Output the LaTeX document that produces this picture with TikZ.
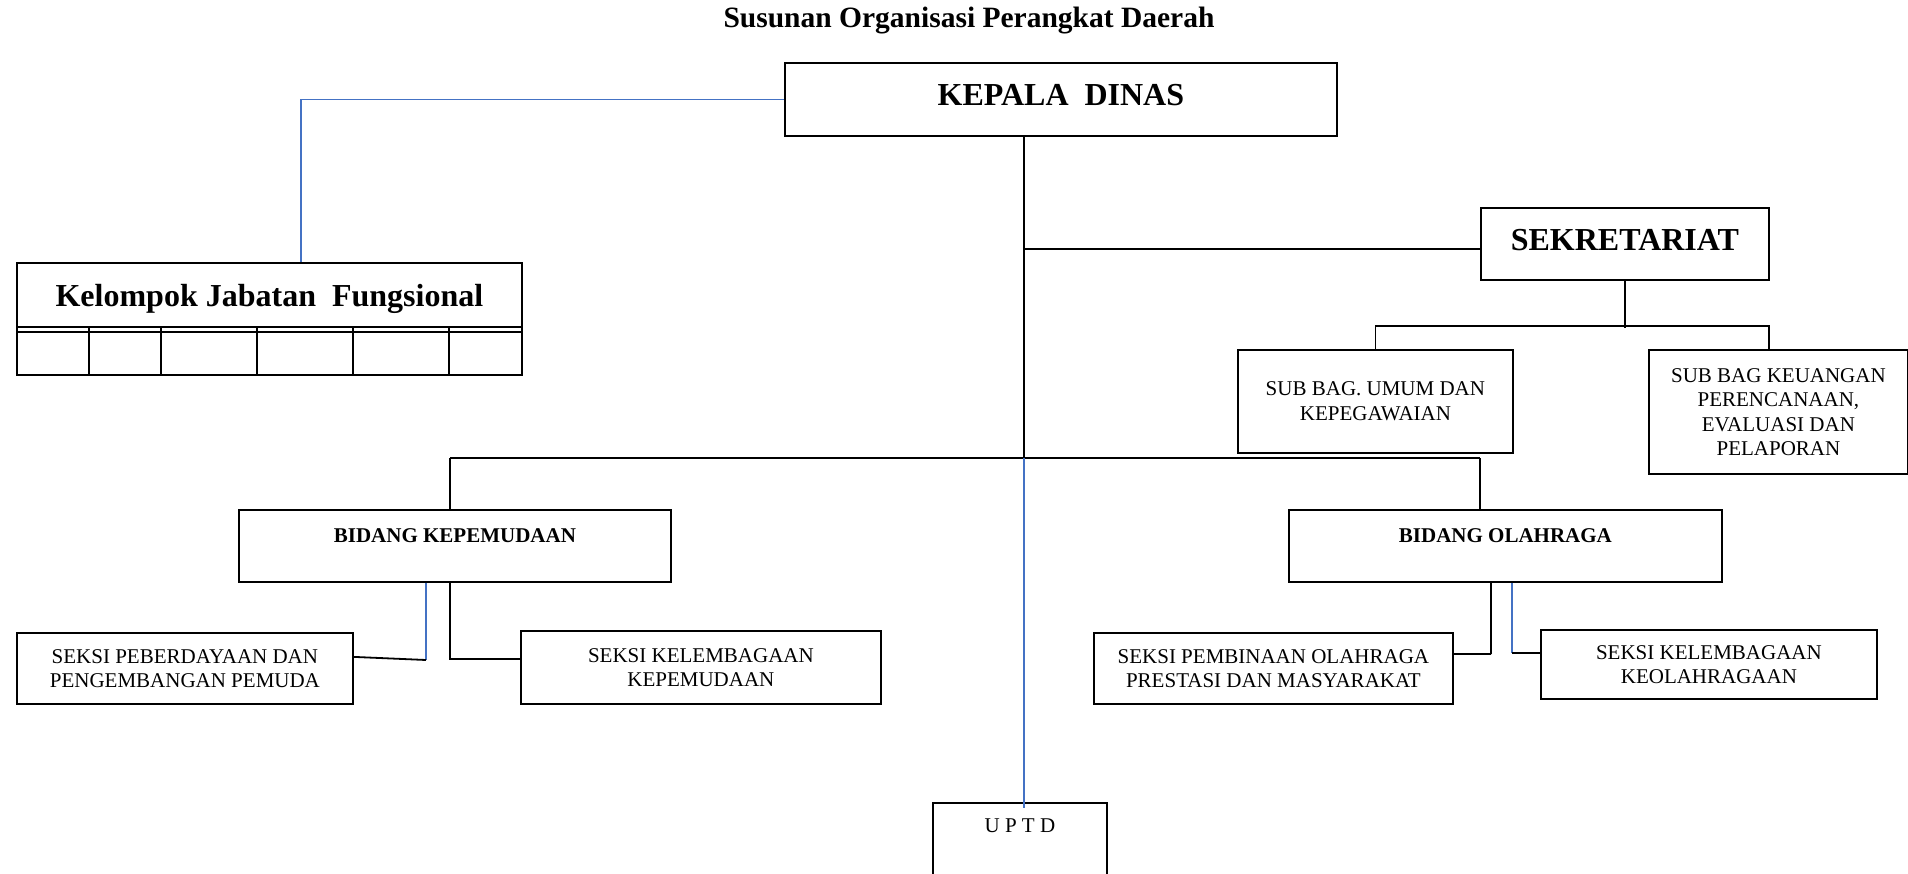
\documentclass[tikz,border=0pt]{standalone}
\usepackage{xcolor}
\usepackage{fontspec}
\setmainfont{Liberation Serif}
\usepackage{tikz}
\usetikzlibrary{positioning, calc}
\definecolor{wordblue}{HTML}{4472C4}

\begin{document}
\begin{tikzpicture}[
    x=1pt, y=-1pt,
    box/.style={rectangle, draw=black, line width=1.8pt, inner sep=0pt, anchor=north west, align=center, font=\fontsize{21}{24.5}\selectfont},
    headbox/.style={box, font=\bfseries\fontsize{32}{36}\selectfont},
    bidang/.style={box, font=\bfseries\fontsize{21}{24}\selectfont, text height=33pt, text depth=39pt},
    line/.style={line width=1.8pt},
    blueline/.style={draw=wordblue, line width=1.7pt}
]
\useasboundingbox (0,0) rectangle (1908,874);

% Title
\node[font=\bfseries\fontsize{29.5}{33}\selectfont] (title) at (969,21) {Susunan Organisasi Perangkat Daerah};

% Top level
\node[headbox, minimum width=552, minimum height=73, text height=43pt, text depth=30pt] (kepala) at (784,62) {KEPALA~~DINAS};
\node[headbox, minimum width=505, minimum height=112, text height=43.5pt, text depth=68.5pt] (kjf) at (16,262) {Kelompok Jabatan~~Fungsional};
\node[headbox, minimum width=288, minimum height=72, text height=43pt, text depth=29pt] (sekr) at (1480,207) {SEKRETARIAT};

% Sekretariat
\node[box, minimum width=275, minimum height=103] (umum) at (1237,349) {SUB BAG. UMUM DAN\\KEPEGAWAIAN};
\node[box, minimum width=259, minimum height=124] (keu) at (1648,349) {SUB BAG KEUANGAN\\PERENCANAAN,\\EVALUASI DAN\\PELAPORAN};

% Bidang
\node[bidang, minimum width=432, minimum height=72] (bkp) at (238,509) {BIDANG KEPEMUDAAN};
\node[bidang, minimum width=433, minimum height=72] (bor) at (1288,509) {BIDANG OLAHRAGA};

% Seksi
\node[box, minimum width=336, minimum height=71] (sppp) at (16,632) {SEKSI PEBERDAYAAN DAN\\PENGEMBANGAN PEMUDA};
\node[box, minimum width=360, minimum height=73] (skkp) at (520,630) {SEKSI KELEMBAGAAN\\KEPEMUDAAN};
\node[box, minimum width=359, minimum height=71] (spor) at (1093,632) {SEKSI PEMBINAAN OLAHRAGA\\PRESTASI DAN MASYARAKAT};
\node[box, minimum width=336, minimum height=69] (skor) at (1540,629) {SEKSI KELEMBAGAAN\\KEOLAHRAGAAN};

% UPTD
\node[box, font=\fontsize{21}{24}\selectfont, minimum width=174, minimum height=90, text height=30pt, text depth=60pt] (uptd) at (932,802) {U P T D};

% Jabatan fungsional table
\draw[line] (16,327) -- (521,327);
\draw[line] (16,332) -- (521,332);
\foreach \x in {89,161,257,353,449}
    \draw[line] (\x,327) -- (\x,374);

% Lines
\coordinate (trunk) at (1024,458);
\coordinate (sj) at (1024,249);
\coordinate (busL) at (450,458);
\coordinate (busR) at (1480,458);
\draw[blueline] (kepala.west) -| ([xshift=31.5pt]kjf.north);
\draw[line] (kepala.south -| trunk) -- (trunk);
\draw[line] (sj) -- (sj -| sekr.west);
\draw[line] (sekr.south) -- ++(0,47);
\draw[line] (umum.north) -- ++(0,-23) -| ([xshift=-9.5pt]keu.north);
\draw[line] (busL) -- (busR);
\draw[line] (busL) -- (busL |- bkp.north);
\draw[line] (busR) -- (busR |- bor.north);
\draw[blueline] (trunk) -- ($(trunk |- uptd.north)+(0,6)$);

% Kepemudaan
\coordinate (kp1) at (450,659);
\coordinate (kp2) at (426,660);
\draw[line] (kp1 |- bkp.south) -- (kp1) -- (kp1 -| skkp.west);
\draw[blueline] (kp2 |- bkp.south) -- (kp2);
\draw[line] ([yshift=11.5pt]sppp.east) -- (kp2);

% Olahraga
\coordinate (or1) at (1491,654);
\coordinate (or2) at (1512,653);
\draw[line] (or1 |- bor.south) -- (or1);
\draw[line] ([yshift=14.5pt]spor.east) -- (or1);
\draw[blueline] (or2 |- bor.south) -- (or2);
\draw[line] (or2) -- (or2 -| skor.west);

\end{tikzpicture}
\end{document}
